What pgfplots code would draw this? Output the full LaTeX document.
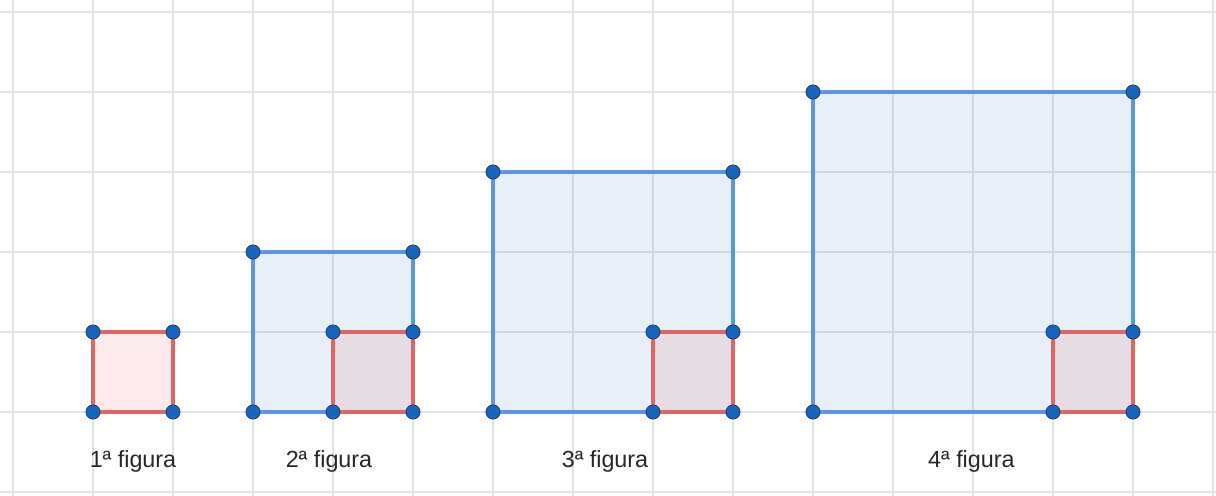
\documentclass[border=0pt]{standalone}
\usepackage{fontspec}
\setmainfont{Liberation Sans}
\usepackage{pgfplots}
\pgfplotsset{compat=1.18}
\definecolor{gridgray}{RGB}{228,228,228}
\definecolor{ggblue}{RGB}{21,101,192}
\definecolor{bluedge}{RGB}{92,150,222}
\definecolor{rededge}{RGB}{224,102,102}
\definecolor{ggred}{RGB}{211,47,47}
\definecolor{ptedge}{RGB}{30,60,100}
\begin{document}
\begin{tikzpicture}
\begin{axis}[
    scale only axis,
    width=912pt, height=372pt,
    xmin=-1.1625, xmax=14.0375,
    ymin=-1.05, ymax=5.15,
    xtick={-1,0,...,14}, ytick={-1,0,...,5},
    xticklabels={}, yticklabels={},
    major tick length=0pt,
    axis line style={draw=none},
    grid=major,
    grid style={gridgray, line width=1.6pt},
    clip=false,
]
% squares (blue = big figure, red = unit square)
\addplot[draw=bluedge, line width=2.6pt, fill=ggblue, fill opacity=0.1] coordinates {(2,0) (2,2) (4,2) (4,0)} -- cycle;
\addplot[draw=bluedge, line width=2.6pt, fill=ggblue, fill opacity=0.1] coordinates {(5,0) (5,3) (8,3) (8,0)} -- cycle;
\addplot[draw=bluedge, line width=2.6pt, fill=ggblue, fill opacity=0.1] coordinates {(9,0) (9,4) (13,4) (13,0)} -- cycle;
\addplot[draw=rededge, line width=2.6pt, fill=ggred, fill opacity=0.1] coordinates {(0,0) (0,1) (1,1) (1,0)} -- cycle;
\addplot[draw=rededge, line width=2.6pt, fill=ggred, fill opacity=0.1] coordinates {(3,0) (3,1) (4,1) (4,0)} -- cycle;
\addplot[draw=rededge, line width=2.6pt, fill=ggred, fill opacity=0.1] coordinates {(7,0) (7,1) (8,1) (8,0)} -- cycle;
\addplot[draw=rededge, line width=2.6pt, fill=ggred, fill opacity=0.1] coordinates {(12,0) (12,1) (13,1) (13,0)} -- cycle;
% vertices
\addplot[only marks, mark=*, mark size=5.3pt, mark options={fill=ggblue, draw=ptedge, line width=0.6pt}] coordinates {
(0,0) (0,1) (1,1) (1,0)
(2,0) (2,2) (4,2) (4,0) (3,0) (3,1) (4,1)
(5,0) (5,3) (8,3) (8,0) (7,0) (7,1) (8,1)
(9,0) (9,4) (13,4) (13,0) (12,0) (12,1) (13,1)
};
% labels
\node[font=\fontsize{17.5}{20}\selectfont, text=black!85] at (axis cs:0.5,-0.62) {1ª figura};
\node[font=\fontsize{17.5}{20}\selectfont, text=black!85] at (axis cs:2.95,-0.62) {2ª figura};
\node[font=\fontsize{17.5}{20}\selectfont, text=black!85] at (axis cs:6.4,-0.62) {3ª figura};
\node[font=\fontsize{17.5}{20}\selectfont, text=black!85] at (axis cs:10.98,-0.62) {4ª figura};
\end{axis}
\pgfresetboundingbox
\path[use as bounding box] (current axis.south west) rectangle (current axis.north east);
\end{tikzpicture}
\end{document}
